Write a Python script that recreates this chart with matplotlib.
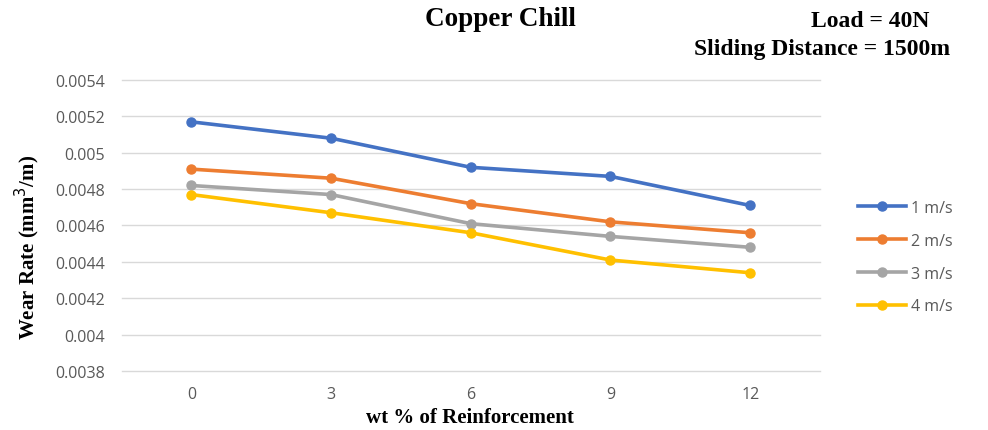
import numpy as np
import matplotlib.pyplot as plt

# data
reinforcement = ['0', '3', '6', '9', '12']
speeds = ['1 m/s', '2 m/s', '3 m/s', '4 m/s']
wear_1 = [0.00517, 0.00508, 0.00492, 0.00487, 0.00471]
wear_2 = [0.00491, 0.00486, 0.00472, 0.00462, 0.00456]
wear_3 = [0.00482, 0.00477, 0.00461, 0.00454, 0.00448]
wear_4 = [0.00477, 0.00467, 0.00456, 0.00441, 0.00434]
yticks = [0.0038, 0.004, 0.0042, 0.0044, 0.0046, 0.0048, 0.005, 0.0052, 0.0054]
ytick_labels = ['0.0038', '0.004', '0.0042', '0.0044', '0.0046', '0.0048', '0.005', '0.0052', '0.0054']

colors = ['#4472C4', '#ED7D31', '#A5A5A5', '#FFC000']
serif = 'Liberation Serif'
sans = 'Open Sans'

fig = plt.figure(figsize=(9.88, 4.31), dpi=100)
ax = fig.add_axes([0.123, 0.137, 0.707, 0.675])

x = np.arange(len(reinforcement))
for vals, lab, c in zip([wear_1, wear_2, wear_3, wear_4], speeds, colors):
    ax.plot(x, vals, color=c, lw=2.6, marker='o', ms=6.5, label=lab)

ax.set_xlim(-0.5, 4.5)
ax.set_ylim(0.0038, 0.0054)
ax.set_xticks(x)
ax.set_xticklabels(reinforcement, fontsize=11.5, color='#595959', family=sans)
ax.set_yticks(yticks)
ax.set_yticklabels(ytick_labels, fontsize=11.5, color='#595959', family=sans)
ax.tick_params(length=0, pad=11)
ax.tick_params(axis='y', pad=12)
ax.grid(axis='y', color='#d9d9d9', lw=1, clip_on=False)
ax.set_axisbelow(True)
for s in ax.spines.values():
    s.set_visible(False)

# axis titles
fig.text(0.476, 0.030, 'wt % of Reinforcement', family=serif, weight='bold', fontsize=15,
         ha='center', va='center')
fig.text(0.028, 0.425, 'Wear Rate (mm$^3$/m)', family=serif, weight='bold', fontsize=15,
         ha='center', va='center', rotation=90)

fig.text(0.507, 0.955, 'Copper Chill', family=serif, weight='bold', fontsize=19.5,
         ha='center', va='center')
fig.text(0.881, 0.951, 'Load = 40N', family=serif, weight='bold', fontsize=17,
         ha='center', va='center')
fig.text(0.832, 0.884, 'Sliding Distance = 1500m', family=serif, weight='bold', fontsize=17,
         ha='center', va='center')

fig.legend(loc='center left', bbox_to_anchor=(0.862, 0.401), frameon=False,
           prop={'family': sans, 'size': 11.5}, labelspacing=1.05, handlelength=3.0,
           handletextpad=0.3, borderaxespad=0, labelcolor='#595959')

fig.savefig('out.png', dpi=100)
